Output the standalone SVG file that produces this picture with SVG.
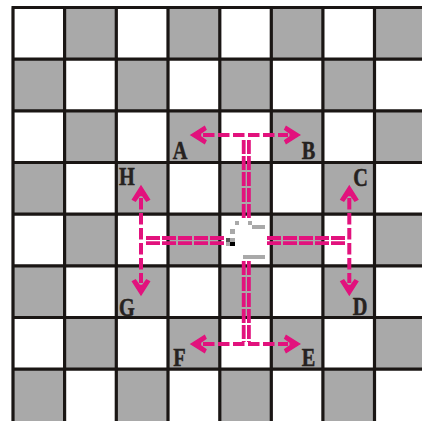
<svg xmlns="http://www.w3.org/2000/svg" width="422" height="421" viewBox="0 0 422 421">
<defs>
<style>
.g{fill:#a9a9a9}
.l{stroke:#1a1614;stroke-width:3.2;fill:none}
.d{stroke:#e2127d;stroke-width:3.8;fill:none;stroke-dasharray:14 2}
.s{stroke:#e2127d;stroke-width:4;fill:none;stroke-dasharray:11.5 3.5}
.a{fill:#e2127d;stroke:#e2127d;stroke-width:1.4;stroke-linejoin:miter}
.n{fill:#a9a9a9}
text{font-family:"Liberation Serif","Times New Roman",serif;font-weight:bold;font-size:26px;fill:#262220;stroke:#262220;stroke-width:.5;text-anchor:middle}
</style>
<path id="ar" d="M1 0L14.500 -8.500L16 -5.500L10.500 -1.500V1.500L16 5.500L14.500 8.500Z"/>
</defs>
<rect width="422" height="421" fill="#fff"/>
<g id="board">
<path class="g" d="M64.600 7.500h51.700v51.700h-51.700zM168 7.500h51.600v51.700h-51.600zM271.200 7.500h51.700v51.700h-51.700zM374.500 7.500h47.500v51.700h-47.500z
M13 59.200h51.600v51.600h-51.600zM116.300 59.200h51.700v51.600h-51.700zM219.600 59.200h51.600v51.600h-51.600zM322.900 59.200h51.600v51.600h-51.600z
M64.600 110.800h51.700v51.700h-51.700zM168 110.800h51.600v51.700h-51.600zM271.200 110.800h51.700v51.700h-51.700zM374.500 110.800h47.500v51.700h-47.500z
M13 162.500h51.600v51.700h-51.600zM116.300 162.500h51.700v51.700h-51.700zM219.600 162.500h51.600v51.700h-51.600zM322.900 162.500h51.600v51.700h-51.600z
M64.600 214.200h51.700v51.600h-51.700zM168 214.200h51.600v51.600h-51.600zM271.200 214.200h51.700v51.600h-51.700zM374.500 214.200h47.500v51.600h-47.500z
M13 265.800h51.600v51.700h-51.600zM116.300 265.800h51.700v51.700h-51.700zM219.600 265.800h51.600v51.700h-51.600zM322.900 265.800h51.600v51.700h-51.600z
M64.600 317.500h51.700v51.700h-51.700zM168 317.500h51.600v51.700h-51.600zM271.200 317.500h51.700v51.700h-51.700zM374.500 317.500h47.500v51.700h-47.500z
M13 369.200h51.600v51.800h-51.600zM116.300 369.200h51.700v51.800h-51.700zM219.600 369.200h51.600v51.800h-51.600zM322.900 369.200h51.600v51.800h-51.600z"/>
<path class="l" d="M13 7.500V421M64.600 7.500V421M116.300 7.500V421M168 7.500V421M219.800 7.500V421M271.300 7.500V421M322.900 7.500V421M374.500 7.500V421
M11.500 7.500H422M11.500 59.200H422M11.500 110.800H422M11.500 162.500H422M11.500 214.200H422M11.500 265.800H422M11.500 317.500H422M11.500 369.200H422"/>
</g>
<g id="marks">
<rect class="n" x="235" y="221" width="4" height="4"/>
<rect class="n" x="248" y="221" width="4" height="4"/>
<rect class="n" x="252" y="225" width="13" height="4"/>
<rect class="n" x="230" y="229" width="5" height="5"/>
<rect x="226" y="238" width="4" height="4" fill="#555"/>
<rect class="n" x="230" y="238" width="5" height="4"/>
<rect class="n" x="226" y="242" width="4" height="4"/>
<rect x="230" y="242" width="5" height="4" fill="#000"/>
<rect class="n" x="243" y="255" width="22" height="4"/>
</g>
<g id="connectors">
<path class="d" d="M243.700 218V140M248.900 218V140M243.700 261V342M248.900 261V342"/>
<path class="d" d="M224 238H145M224 243.200H145M267 238H345M267 243.200H345"/>
<path class="s" d="M203 135H288M203 344H288"/>
<path class="s" d="M141 198V283M349.300 198V283"/>
<use href="#ar" class="a" transform="translate(190 135)"/>
<use href="#ar" class="a" transform="translate(300.700 135) rotate(180)"/>
<use href="#ar" class="a" transform="translate(190 344)"/>
<use href="#ar" class="a" transform="translate(300.700 344) rotate(180)"/>
<use href="#ar" class="a" transform="translate(141 185) rotate(90)"/>
<use href="#ar" class="a" transform="translate(141 296) rotate(-90)"/>
<use href="#ar" class="a" transform="translate(349.300 185) rotate(90)"/>
<use href="#ar" class="a" transform="translate(349.300 296) rotate(-90)"/>
</g>
<g id="node-A"><text transform="translate(180 159) scale(.78 1)">A</text></g>
<g id="node-B"><text transform="translate(308.500 159) scale(.78 1)">B</text></g>
<g id="node-C"><text transform="translate(360.500 186) scale(.78 1)">C</text></g>
<g id="node-D"><text transform="translate(360 315) scale(.78 1)">D</text></g>
<g id="node-E"><text transform="translate(308.500 366) scale(.78 1)">E</text></g>
<g id="node-F"><text transform="translate(179.500 366) scale(.78 1)">F</text></g>
<g id="node-G"><text transform="translate(127 316) scale(.78 1)">G</text></g>
<g id="node-H"><text transform="translate(127 185) scale(.78 1)">H</text></g>
</svg>
